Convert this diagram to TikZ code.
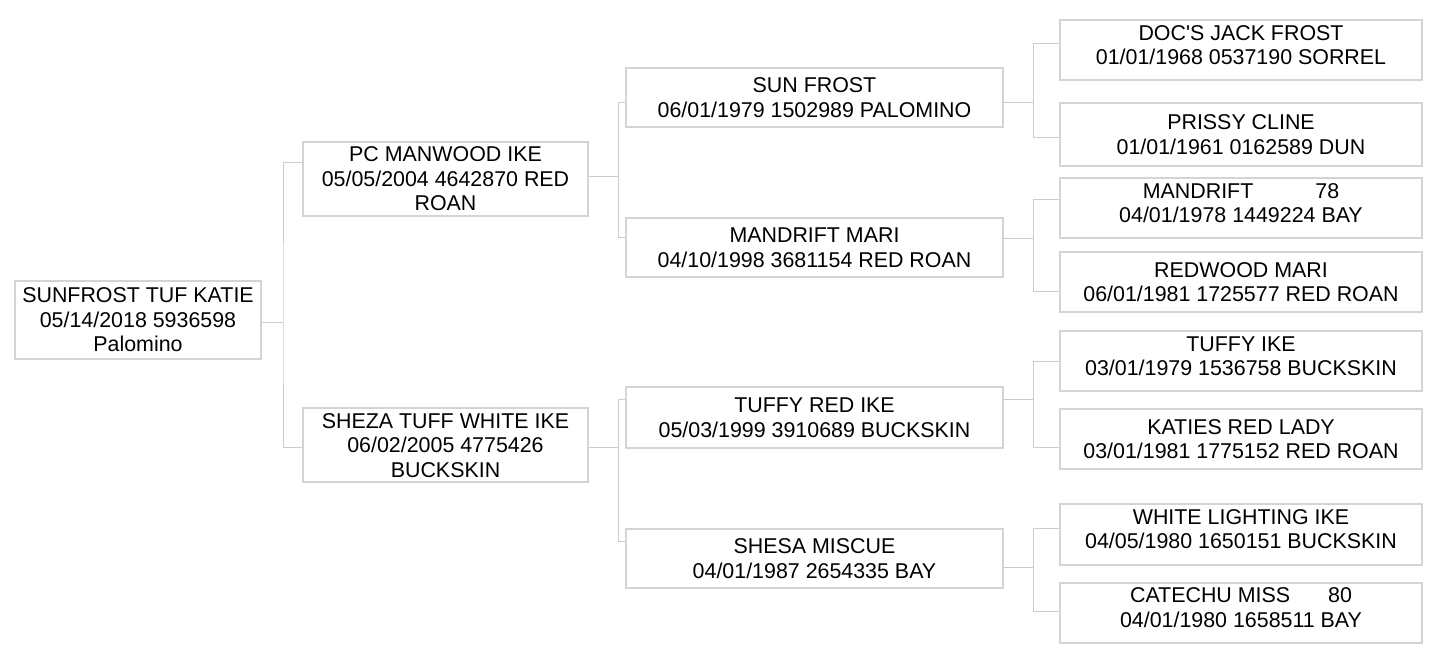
\documentclass[tikz,border=0pt]{standalone}
\usepackage{fontspec}
\setmainfont{Liberation Sans}
\definecolor{boxgray}{RGB}{212,212,212}
\definecolor{linkgray}{RGB}{204,204,204}

\tikzset{
  horse/.style={draw=boxgray,line width=1pt,fill=white,align=center,inner sep=0pt,
    font=\fontsize{10.7pt}{12.25pt}\selectfont},
  gen1/.style={horse,minimum width=123pt,minimum height=39pt},
  gen2/.style={horse,minimum width=142.5pt,minimum height=37pt},
  gen3/.style={horse,minimum width=188.5pt,minimum height=29.5pt},
  gen4/.style={horse,minimum width=181pt,minimum height=30pt},
  lift/.style={execute at end node={\rule[-5.5pt]{0pt}{5.5pt}}},
  link/.style={draw=linkgray,line width=0.5pt}
}

\begin{document}
\begin{tikzpicture}[x=0.5pt,y=-0.5pt]
  \useasboundingbox (0,0) rectangle (1438,656);
  % subject
  \node[gen1] (kid) at (138,320) {SUNFROST TUF KATIE\\05/14/2018 5936598\\Palomino};
  % parents
  \node[gen2] (pc) at (445.5,179) {PC MANWOOD IKE\\05/05/2004 4642870 RED\\ROAN};
  \node[gen2] (sheza) at (445.5,445.5) {SHEZA TUFF WHITE IKE\\06/02/2005 4775426\\BUCKSKIN};
  % grandparents
  \node[gen3] (sunfrost) at (814.5,97.5) {SUN FROST\\06/01/1979 1502989 PALOMINO};
  \node[gen3] (mari) at (814.5,247.5) {MANDRIFT MARI\\04/10/1998 3681154 RED ROAN};
  \node[gen3,minimum height=30.5pt] (tuffyred) at (814.5,417.5) {TUFFY RED IKE\\05/03/1999 3910689 BUCKSKIN};
  \node[gen3] (shesa) at (814.5,558.5) {SHESA MISCUE\\04/01/1987 2654335 BAY};
  % great-grandparents
  \node[gen4,lift] (doc) at (1241,50.5) {DOC\textquotesingle S JACK FROST\\01/01/1968 0537190 SORREL};
  \node[gen4,minimum height=31.5pt] (prissy) at (1241,134.5) {PRISSY CLINE\\01/01/1961 0162589 DUN};
  \node[gen4,lift] (mandrift) at (1241,208.5) {MANDRIFT\hspace{31pt}78\\04/01/1978 1449224 BAY};
  \node[gen4] (redwood) at (1241,282) {REDWOOD MARI\\06/01/1981 1725577 RED ROAN};
  \node[gen4,lift] (tuffy) at (1241,361.5) {TUFFY IKE\\03/01/1979 1536758 BUCKSKIN};
  \node[gen4] (katies) at (1241,439) {KATIES RED LADY\\03/01/1981 1775152 RED ROAN};
  \node[gen4,lift] (white) at (1241,534.5) {WHITE LIGHTING IKE\\04/05/1980 1650151 BUCKSKIN};
  \node[gen4,lift] (catechu) at (1241,613) {CATECHU MISS\hspace{19pt}80\\04/01/1980 1658511 BAY};
  % connectors: child -> junction -> sire / dam
  \foreach \child/\sire/\dam/\jx/\ky/\sy/\dy in {kid/pc/sheza/283/323/163/448,
      pc/sunfrost/mari/618/177/103/238, sheza/tuffyred/shesa/618/448/400/542,
      sunfrost/doc/prissy/1033/103/44/138, mari/mandrift/redwood/1033/239/200/292,
      tuffyred/tuffy/katies/1033/400/362/448, shesa/white/catechu/1033/567/529/611}
  {
    \draw[link] (\sire.west |- 0,\sy) -| (\jx,\ky) |- (\dam.west |- 0,\dy);
    \draw[link] (\child.east |- 0,\ky) -- (\jx,\ky);
  }
\end{tikzpicture}
\end{document}
